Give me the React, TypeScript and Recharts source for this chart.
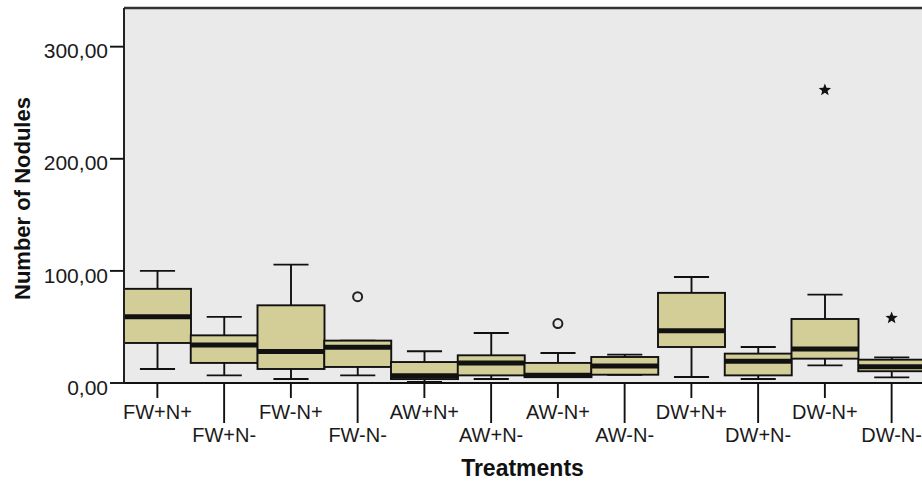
import React from 'react';
import { ComposedChart, Bar, Scatter, XAxis, YAxis, CartesianGrid, ReferenceLine } from 'recharts';

document.body.style.margin = '0';

const categories = [
  'FW+N+', 'FW+N-', 'FW-N+', 'FW-N-',
  'AW+N+', 'AW+N-', 'AW-N+', 'AW-N-',
  'DW+N+', 'DW+N-', 'DW-N+', 'DW-N-',
];
const minVals = [12.5, 6.8, 3.6, 6.8, 1, 3.6, 5.2, 7.4, 5.4, 3.6, 15.7, 5];
const q1Vals = [35.7, 17.9, 12.5, 14.3, 3.5, 6.8, 5.2, 7.4, 32.1, 6.8, 21.7, 10.5];
const medianVals = [59, 34, 28.2, 32, 6.5, 17.9, 7, 15.2, 46.7, 19.3, 30.3, 14.6];
const q3Vals = [84, 42.5, 69.3, 37.8, 18.7, 24.7, 17.9, 23.2, 80.4, 26.2, 57.1, 20.8];
const maxVals = [100, 59, 105.6, 37.8, 28.3, 44.6, 26.8, 25.3, 94.6, 32.1, 78.8, 22.9];
// outliers (circle) and extremes (star)
const circleVals: (number | null)[] = [null, null, null, 77, null, null, 53, null, null, null, null, null];
const starVals: (number | null)[] = [null, null, null, null, null, null, null, null, null, null, 261.3, 58];
const yTicks = [0, 100, 200, 300];

const data = categories.map((name, i) => ({
  name,
  min: minVals[i],
  q1: q1Vals[i],
  median: medianVals[i],
  q3: q3Vals[i],
  max: maxVals[i],
  circle: circleVals[i],
  star: starVals[i],
}));

const BOX_FILL = '#d3ce97';
const INK = '#111';
const FONT = '"Liberation Sans", Arial, sans-serif';

function BoxShape(props: any) {
  const { x, y, width, height, payload } = props;
  if (!payload || width == null || y == null) return <g />;
  const top = Math.min(y, y + height);
  const bottom = Math.max(y, y + height);
  const span = payload.max - payload.min;
  // map a value inside the whisker range onto the bar's pixel range
  const py = (v: number) => (span === 0 ? top : bottom - ((v - payload.min) / span) * (bottom - top));
  const cx = x + width / 2;
  const capHalf = width * 0.262;
  const yq1 = py(payload.q1);
  const yq3 = py(payload.q3);
  const ymed = py(payload.median);
  return (
    <g>
      <line x1={cx} x2={cx} y1={top} y2={yq3} stroke={INK} strokeWidth={1.9} />
      <line x1={cx} x2={cx} y1={yq1} y2={bottom} stroke={INK} strokeWidth={1.9} />
      <line x1={cx - capHalf} x2={cx + capHalf} y1={top} y2={top} stroke={INK} strokeWidth={1.9} />
      <line x1={cx - capHalf} x2={cx + capHalf} y1={bottom} y2={bottom} stroke={INK} strokeWidth={1.9} />
      <rect x={x} y={yq3} width={width} height={Math.max(yq1 - yq3, 0.5)} fill={BOX_FILL} stroke={INK} strokeWidth={1.9} />
      <line x1={x} x2={x + width} y1={ymed} y2={ymed} stroke={INK} strokeWidth={5} />
    </g>
  );
}

function CircleMark(props: any) {
  const { cx, cy, payload } = props;
  if (!payload || payload.circle == null || cx == null || cy == null) return <g />;
  return <circle cx={cx} cy={cy} r={4.5} fill="none" stroke="#222" strokeWidth={2} />;
}

function StarMark(props: any) {
  const { cx, cy, payload } = props;
  if (!payload || payload.star == null || cx == null || cy == null) return <g />;
  const pts: string[] = [];
  for (let k = 0; k < 10; k++) {
    const r = k % 2 === 0 ? 6.5 : 2.8;
    const a = -Math.PI / 2 + (k * Math.PI) / 5;
    pts.push(`${cx + r * Math.cos(a)},${cy + r * Math.sin(a)}`);
  }
  return <polygon points={pts.join(' ')} fill="#111" />;
}

function XTick(props: any) {
  const { x, y, payload } = props;
  const idx = categories.indexOf(payload.value);
  const low = idx % 2 === 1;
  return (
    <g>
      <line x1={x} x2={x} y1={y} y2={y + (low ? 40 : 15)} stroke={INK} strokeWidth={1.9} />
      <text x={x} y={y + (low ? 58.5 : 36)} textAnchor="middle" fontSize={20} fill="#1a1a1a" fontFamily={FONT}>
        {payload.value}
      </text>
    </g>
  );
}

function YTick(props: any) {
  const { x, y, payload } = props;
  return (
    <text x={x} y={y + 11.7} textAnchor="end" fontSize={21} fill="#1a1a1a" fontFamily={FONT}>
      {Number(payload.value).toFixed(2).replace('.', ',')}
    </text>
  );
}

export default function App() {
  return (
    <div style={{ width: 922, height: 482, overflow: 'hidden', background: '#fff' }}>
      <ComposedChart
        width={926}
        height={482}
        data={data}
        margin={{ top: 8, right: 1, bottom: 0, left: 0 }}
        barCategoryGap={0}
        barGap={0}
      >
        <CartesianGrid horizontal={false} vertical={false} fill="#eaeaea" />
        <XAxis
          dataKey="name"
          height={99}
          interval={0}
          tickSize={0}
          tickMargin={0}
          tickLine={false}
          axisLine={{ stroke: INK, strokeWidth: 1.9 }}
          tick={<XTick />}
          label={{
            content: (p: any) => {
              const vb = p.viewBox || { x: 124, y: 383, width: 801, height: 99 };
              return (
                <text x={vb.x + vb.width / 2 - 2} y={vb.y + vb.height - 6} textAnchor="middle" fontSize={23} fontWeight="bold" fill="#111" fontFamily={FONT}>
                  Treatments
                </text>
              );
            },
          }}
        />
        <YAxis
          width={124}
          domain={[0, 334.5]}
          ticks={yTicks}
          tickSize={14}
          tickMargin={2}
          tickLine={{ stroke: INK, strokeWidth: 1.9 }}
          axisLine={{ stroke: '#222', strokeWidth: 2 }}
          tick={<YTick />}
          label={{
            content: (p: any) => {
              const vb = p.viewBox || { x: 0, y: 8, width: 124, height: 375 };
              const lx = vb.x + 22;
              const ly = vb.y + vb.height / 2 + 3;
              return (
                <text x={lx} y={ly} transform={`rotate(-90, ${lx}, ${ly})`} textAnchor="middle" dominantBaseline="central" fontSize={22} fontWeight="bold" fill="#111" fontFamily={FONT}>
                  Number of Nodules
                </text>
              );
            },
          }}
        />
        <ReferenceLine y={334.5} stroke="#333" strokeWidth={2.5} />
        <Bar dataKey={(d: any) => [d.min, d.max]} shape={(p: any) => <BoxShape {...p} />} isAnimationActive={false} />
        <Scatter dataKey="circle" shape={(p: any) => <CircleMark {...p} />} isAnimationActive={false} />
        <Scatter dataKey="star" shape={(p: any) => <StarMark {...p} />} isAnimationActive={false} />
      </ComposedChart>
    </div>
  );
}
